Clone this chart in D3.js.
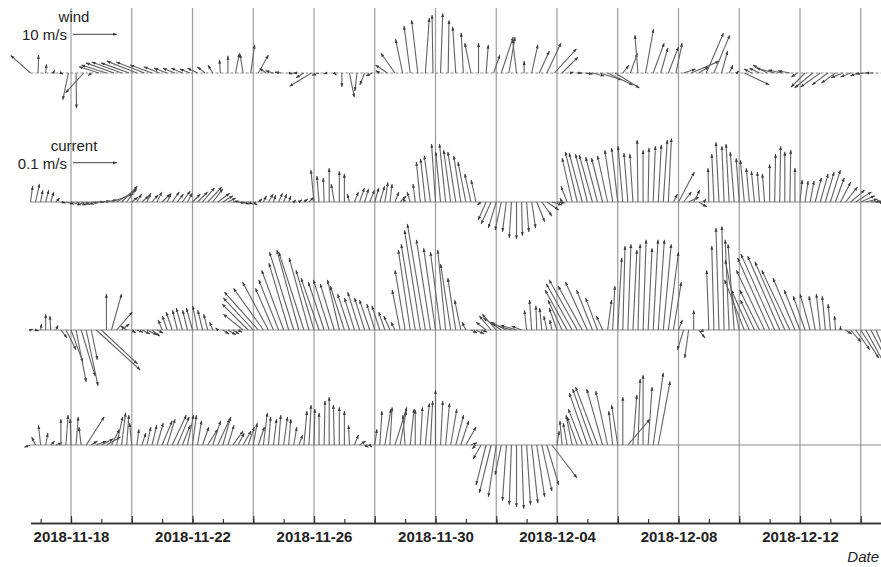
<!DOCTYPE html>
<html>
<head>
<meta charset="utf-8">
<script src="https://cdn.jsdelivr.net/npm/d3@7"></script>
<style>
  body { margin: 0; background: #fff; }
  svg { display: block; font-family: "Liberation Sans", Arial, sans-serif; }
</style>
</head>
<body>
<svg id="chart" width="881" height="567"></svg>
<script>
// ---- time axis ----
const startTime = new Date(Date.UTC(2018, 10, 16, 16));
const endTime = new Date(Date.UTC(2018, 11, 14, 16));
const gridDays = ['2018-11-18', '2018-11-20', '2018-11-22', '2018-11-24', '2018-11-26', '2018-11-28',
  '2018-11-30', '2018-12-02', '2018-12-04', '2018-12-06', '2018-12-08', '2018-12-10', '2018-12-12', '2018-12-14'];
const tickLabels = ['2018-11-18', '2018-11-22', '2018-11-26', '2018-11-30', '2018-12-04', '2018-12-08', '2018-12-12'];

// ---- wind (m/s), one vector every 6 h from startTime ----
const windStepHours = 6;
const windU = [-4.5,0.1,0.2,0.3,0.5,-1.3,0.1,-4.1,-0.7,-4.5,
  -5.7,-6.4,-6.8,-6.4,-6.8,-6.4,-5.0,-3.6,-3.0,-2.7,
  -2.5,-2.3,-2.3,-1.8,-1.1,-0.2,0.0,0.9,-0.7,0.9,
  2.3,-1.4,-1.8,-1.4,0.9,-0.7,-1.8,-5.0,-1.6,-0.7,
  0.5,0.0,1.1,-0.5,-1.1,-1.4,-0.9,-2.7,-3.2,-1.6,
  -1.4,-1.4,0.9,-0.2,0.5,0.2,-0.7,-0.5,-1.4,0.0,
  0.5,1.4,2.7,1.4,-0.9,0.0,1.4,2.3,3.2,5.0,
  3.6,0.9,1.1,1.8,2.7,5.0,5.7,5.5,1.4,1.6,
  -0.7,1.8,2.5,1.6,2.3,1.4,2.7,6.4,2.3,3.9,
  3.6,1.4,0.9,0.5,5.7,-1.8,-2.3,-3.2,-4.1,-3.2,
  -2.7,-1.4,-3.2,-4.1,-4.5,-3.6,-3.2,-2.7,-2.3,-1.8,
  -2.3,-1.8];
const windV = [4.0,4.1,2.0,0.7,-0.3,-6.1,-8.0,-4.5,-0.6,1.4,
  1.8,2.3,2.5,2.3,2.7,2.5,1.8,1.4,1.1,1.1,
  1.1,0.9,1.1,1.4,1.8,3.0,3.9,4.5,4.3,6.4,
  4.1,1.1,0.5,0.2,-0.2,0.0,-1.1,-3.0,-0.5,-0.2,
  -0.5,-3.2,-5.5,-4.1,-2.7,-0.7,0.5,1.8,4.5,7.7,
  10.7,12.0,12.5,13.2,13.6,12.0,10.5,9.1,6.8,6.8,
  6.4,4.1,8.2,8.2,7.7,2.7,6.4,5.0,6.8,5.5,
  3.6,0.2,0.0,-0.2,-0.7,-1.6,-2.7,-3.4,1.8,4.5,
  8.6,10.0,6.8,5.7,5.9,6.8,0.9,2.7,1.4,9.1,
  8.6,5.0,1.8,0.5,-2.7,0.9,1.1,1.8,1.1,0.7,
  0.5,-0.9,-3.2,-3.4,-3.2,-2.7,-2.3,-1.1,-0.9,-0.7,
  -0.2,0.0];

// ---- currents (cm/s), one vector every 4 h from startTime, three depths ----
const currentStepHours = 4;
const cur1U = [0.5,0.9,0.5,0.7,0.7,0.9,1.1,1.8,2.3,2.3,
  2.0,1.8,1.6,1.8,2.0,2.3,5.0,4.5,3.6,2.3,
  1.4,1.1,1.6,0.9,1.4,1.1,1.8,0.9,1.6,1.4,
  1.8,1.1,1.8,2.3,2.7,3.2,2.3,2.7,2.3,1.8,
  1.4,1.6,1.4,1.1,0.9,0.9,0.7,1.1,0.5,0.9,
  0.7,0.5,0.5,0.7,0.9,1.1,-0.7,-0.5,-0.2,0,
  -0.7,0,0,-0.5,0.9,1.1,0.9,1.1,0.9,1.1,
  0.7,0.5,0.9,1.4,-0.5,-0.7,-0.5,-0.9,-1.1,-1.4,
  -0.9,-1.1,-1.4,-1.6,-1.8,-1.6,-1.8,-1.4,-1.1,-0.9,
  -1.8,-2.3,-1.8,-1.4,-0.9,-0.5,0,0.2,0.5,0.9,
  1.8,2.3,2.7,2.3,1.8,-0.5,-1.4,-2.3,-2.7,-3.0,
  -2.7,-3.0,-2.7,-2.5,-2.3,-1.8,-1.4,-1.1,-0.9,-0.7,
  -0.2,0,0.2,0.5,0.7,0.9,0.7,0.9,3.6,1.8,
  2.3,1.4,1.8,0.5,-0.2,-0.5,-0.7,-0.5,-0.7,-0.9,
  -0.7,-0.9,-0.7,-0.7,-0.5,-0.5,0,0.2,0.2,0,
  0.2,0,0.5,0.7,0.9,1.4,1.8,2.0,2.3,2.0,
  2.3,2.7,3.2,3.6,3.2,2.7,2.3,1.8];
const cur1V = [3.6,4.1,2.7,2.7,2.3,0.9,-0.2,-0.5,-0.7,-0.7,
  -0.5,-0.5,-0.2,0,0.2,0.5,1.8,2.7,3.6,3.2,
  1.1,1.8,1.4,2.0,1.6,2.3,1.8,2.0,2.3,1.8,
  2.5,2.0,1.8,2.3,3.2,3.4,3.0,2.0,1.4,0.9,
  0.2,-0.2,-0.5,-0.5,-0.7,0.7,1.4,1.8,1.6,2.0,
  1.8,1.4,0.5,0.5,0.7,1.1,7.3,5.9,5.5,7.7,
  4.1,7.0,6.4,1.8,2.3,3.2,3.0,2.7,3.2,3.6,
  4.5,4.1,2.3,1.4,0.9,2.3,4.1,9.1,9.8,10.5,
  13.2,11.4,13.2,11.8,11.4,10.5,9.1,6.4,5.0,-0.7,
  -4.1,-5.0,-5.9,-6.4,-6.8,-8.2,-8.4,-7.7,-6.8,-5.9,
  -4.5,-3.2,-1.8,-0.7,-0.2,0.9,3.6,10.0,11.4,11.1,
  10.9,10.7,10.2,10.0,10.5,11.8,12.3,12.7,11.1,10.9,
  14.1,11.8,12.3,12.7,13.0,14.1,14.5,1.8,6.8,2.3,
  1.1,2.7,-1.1,0.7,7.7,10.9,13.6,12.7,13.2,11.4,
  10.0,9.5,7.7,7.0,6.8,6.4,8.6,10.9,12.7,11.4,
  11.8,7.7,5.0,4.8,4.8,5.5,6.4,6.8,7.3,5.5,
  4.5,3.4,2.7,2.3,1.4,0.7,0.2,-0.2];
const cur2U = [0.5,0.7,0.2,0,-0.2,0.5,1.4,2.3,2.7,2.3,
  3.2,2.7,1.4,10.0,8.2,0,2.3,3.6,1.8,-1.4,
  0.9,1.4,1.8,2.3,1.8,1.4,-0.9,-1.1,-1.4,-1.1,
  -1.4,-1.1,-1.4,-1.1,-1.1,-0.9,-0.7,-0.5,1.4,1.8,
  1.4,0.9,-4.5,-5.9,-6.8,-7.7,-6.8,-5.9,-4.1,-4.5,
  -5.0,-4.5,-5.5,-5.0,-5.7,-4.5,-4.1,-4.1,-3.6,-3.6,
  -3.2,-2.7,-3.2,-2.7,-2.3,-2.7,-2.3,-2.3,-1.8,-1.8,
  -1.4,-1.4,-0.9,-1.8,-2.3,-2.7,-3.2,-3.6,-4.1,-3.2,
  -2.7,-2.3,-1.8,-2.3,-1.8,-1.4,-0.9,1.4,1.8,1.4,
  -2.3,-2.7,-3.2,-4.1,-3.6,-4.5,-3.6,-2.3,-0.5,-0.5,
  -0.2,-0.5,-0.7,-0.5,-1.8,-3.2,-5.0,-5.9,-6.4,-5.5,
  -5.0,-3.6,-2.7,-1.4,0.9,0.5,0.9,0.5,0.7,0.9,
  0.5,0.7,0.9,1.1,1.4,1.8,2.3,1.8,0.9,-1.4,
  -0.9,0,1.4,-0.9,-0.5,-0.5,-0.7,-0.5,-0.9,-1.4,
  -3.2,-4.5,-4.1,-3.2,-4.5,-6.4,-7.3,-7.7,-7.3,-6.8,
  -6.4,-5.0,-3.6,-2.7,-2.3,-1.4,-0.9,-0.7,-0.5,-0.2,
  0,1.4,2.3,3.2,4.1,4.5,5.0,4.5];
const cur2V = [0.2,-0.2,1.4,3.6,3.2,1.1,-1.8,-4.5,-7.3,-11.8,
  -10.5,-12.7,-6.8,-9.1,-7.7,8.2,8.2,4.1,1.4,0.9,
  -0.7,-0.5,-0.9,-1.1,-1.4,-0.7,2.3,3.2,4.1,4.5,
  5.0,4.5,5.0,5.5,4.5,3.6,1.8,0.5,-0.9,-1.1,
  -0.9,-0.5,3.6,5.9,7.3,8.6,9.5,10.9,9.5,11.4,
  13.6,15.2,17.7,18.2,17.7,16.4,13.6,11.8,10.9,11.4,
  10.5,11.4,10.0,8.2,7.3,8.6,7.3,6.8,5.9,5.5,
  4.1,3.2,1.8,9.1,13.6,18.2,19.5,22.7,24.1,20.5,
  18.6,17.7,18.2,15.0,11.8,6.8,1.8,-0.7,-0.9,-0.5,
  1.8,3.2,3.6,2.7,1.8,1.4,1.1,0.9,4.5,6.8,
  5.5,5.0,3.2,2.3,5.0,6.8,9.1,10.5,11.4,10.0,
  10.9,9.1,7.3,3.2,6.8,10.0,16.4,19.1,19.5,18.2,
  19.5,20.5,18.6,20.5,20.5,19.5,17.7,10.9,2.3,-4.5,
  -6.4,4.5,-1.8,-0.5,13.6,19.1,23.2,23.6,20.5,19.5,
  15.9,11.4,9.1,6.8,9.1,13.6,16.4,17.3,16.8,15.5,
  13.6,11.8,9.1,7.7,8.2,7.7,8.2,7.7,5.9,3.2,
  0.9,-0.9,-2.7,-4.5,-6.4,-8.2,-9.5,-10.5];
const cur3U = [-1.4,-0.9,-0.5,0.5,0.9,1.4,0,0.5,-0.2,0.5,
  -0.5,4.1,1.4,2.3,2.7,3.2,1.8,1.4,0.9,0.5,
  -0.5,0.5,0.9,0.9,1.1,1.4,2.3,1.8,3.2,2.7,
  1.8,1.4,0.9,0.9,1.4,2.3,1.8,2.7,1.8,1.4,
  2.3,1.4,1.8,1.4,0.9,1.4,0.9,0.5,0.7,0.5,
  0.9,0.5,0.7,0.9,0.7,0.5,0.2,0,0.2,0,
  -0.2,0,0,-0.2,0.9,1.4,0.9,0.5,0.5,0.5,
  1.4,0.5,2.7,1.4,-0.5,0.9,0,0.5,0.9,0.5,
  0,0.5,0.9,1.4,1.8,1.8,2.3,1.4,-0.9,-1.8,
  -2.3,-2.7,-1.8,-1.4,-0.9,-0.5,0,0.5,0.9,1.4,
  1.8,2.3,2.7,5.7,0.5,-0.5,-0.9,-1.4,-2.3,-3.2,
  -4.1,-4.5,-5.0,-3.6,-2.7,-0.9,-1.4,0,5.0,0.9,
  0.5,0,0.9,2.3,2.7];
const cur3V = [-0.5,1.8,4.5,2.7,0.9,0.5,5.9,6.8,5.9,6.4,
  4.1,6.4,0.9,0.9,1.4,1.8,3.6,6.4,7.3,6.8,
  5.0,3.6,2.7,4.1,4.5,5.0,5.5,5.9,6.8,6.4,
  4.5,6.8,6.8,5.5,4.1,3.6,5.5,5.9,6.4,4.5,
  3.2,2.7,3.2,4.1,5.0,4.1,7.3,6.4,5.9,6.8,
  6.4,5.9,4.1,2.3,7.7,9.1,8.2,7.3,10.0,10.9,
  9.1,8.6,7.7,4.5,2.3,0.9,-0.5,-0.5,3.6,7.7,
  8.2,8.6,8.6,7.7,6.8,8.2,8.0,8.6,9.5,10.0,
  12.5,10.0,9.5,8.2,6.8,5.5,4.1,0.5,-0.9,-3.2,
  -9.1,-10.9,-11.8,-6.8,-12.7,-13.6,-14.1,-14.5,-13.6,-13.2,
  -11.8,-10.5,-9.1,-7.5,3.2,5.5,5.0,6.8,6.4,8.2,
  11.8,12.7,13.2,12.7,12.3,7.7,9.1,10.9,5.9,11.4,
  15.0,15.9,13.2,16.4,14.5];

// ---- layout ----
const width = 881, height = 567;
const axisY = 523, gridTop = 8;
const windBase = 73, cur1Base = 202, cur2Base = 330, cur3Base = 445;

const svg = d3.select('#chart');

const x = d3.scaleUtc().domain([startTime, endTime]).range([30.5, 881]);
// 10 m/s of wind and 10 cm/s of current both draw 44 px
const windScale = d3.scaleLinear().domain([0, 10]).range([0, 44]);
const currentScale = d3.scaleLinear().domain([0, 10]).range([0, 44]);
const parseDay = d3.utcParse('%Y-%m-%d');
const fmtDay = d3.utcFormat('%Y-%m-%d');

const defs = svg.append('defs');
defs.append('marker')
  .attr('id', 'head')
  .attr('markerUnits', 'userSpaceOnUse')
  .attr('viewBox', '0 -3 6 6')
  .attr('markerWidth', 6).attr('markerHeight', 6)
  .attr('refX', 3.8).attr('refY', 0)
  .attr('orient', 'auto')
  .append('path')
    .attr('d', 'M0,-1.5L3.8,0L0,1.5Z')
    .attr('fill', '#3a3a3a');

// vertical grid lines every 2 days
svg.append('g').selectAll('line')
  .data(gridDays.map(parseDay))
  .join('line')
    .attr('x1', d => x(d)).attr('x2', d => x(d))
    .attr('y1', gridTop).attr('y2', axisY)
    .attr('stroke', '#9c9c9c').attr('stroke-width', 1.2);

// zero lines of each panel
svg.append('g').selectAll('line')
  .data([windBase, cur1Base, cur2Base, cur3Base])
  .join('line')
    .attr('x1', x(startTime)).attr('x2', width)
    .attr('y1', d => d).attr('y2', d => d)
    .attr('stroke', '#8a8a8a').attr('stroke-width', 1.1)
    .attr('stroke-dasharray', (d, i) => i === 0 ? '3,2' : null);

function drawSticks(u, v, stepHours, y0, scale) {
  const pts = u.map((d, i) => ({ t: d3.utcHour.offset(startTime, i * stepHours), u: d, v: v[i] }));
  svg.append('g').selectAll('line')
    .data(pts)
    .join('line')
      .attr('x1', d => x(d.t)).attr('y1', y0)
      .attr('x2', d => x(d.t) + scale(d.u))
      .attr('y2', d => y0 - scale(d.v))
      .attr('stroke', '#626262').attr('stroke-width', 1.1)
      .attr('marker-end', 'url(#head)');
}

drawSticks(windU, windV, windStepHours, windBase, windScale);
drawSticks(cur1U, cur1V, currentStepHours, cur1Base, currentScale);
drawSticks(cur2U, cur2V, currentStepHours, cur2Base, currentScale);
drawSticks(cur3U, cur3V, currentStepHours, cur3Base, currentScale);

// scale arrows
function scaleKey(title, label, len, titleY, labelY, arrowY) {
  const g = svg.append('g').attr('font-size', 15).attr('fill', '#222');
  g.append('text').attr('x', 74).attr('y', titleY).attr('text-anchor', 'middle').text(title);
  g.append('text').attr('x', 67).attr('y', labelY).attr('text-anchor', 'end').text(label);
  g.append('line')
    .attr('x1', 73).attr('x2', 73 + len)
    .attr('y1', arrowY).attr('y2', arrowY)
    .attr('stroke', '#444').attr('stroke-width', 1)
    .attr('marker-end', 'url(#head)');
}
scaleKey('wind', '10 m/s', windScale(10), 22, 39.5, 34.3);
scaleKey('current', '0.1 m/s', currentScale(10), 151, 169, 162.7);

// time axis: daily minor ticks, 2-day major ticks, labels every 4 days
const minorAxis = d3.axisBottom(x)
  .ticks(d3.utcDay.every(1))
  .tickSize(-4).tickSizeOuter(0)
  .tickFormat('');
const majorAxis = d3.axisBottom(x)
  .tickValues(gridDays.map(parseDay))
  .tickSize(-7).tickSizeOuter(0).tickPadding(8)
  .tickFormat(d => tickLabels.includes(fmtDay(d)) ? fmtDay(d) : '');

const gMinor = svg.append('g').attr('transform', `translate(0,${axisY})`).call(minorAxis);
const gMajor = svg.append('g').attr('transform', `translate(0,${axisY})`).call(majorAxis);
[gMinor, gMajor].forEach(g => {
  g.select('.domain').attr('stroke', '#333').attr('stroke-width', 1.6);
  g.selectAll('.tick line').attr('stroke', '#333').attr('stroke-width', 1.2);
});
gMajor.selectAll('.tick text')
  .attr('font-family', '"Liberation Sans", Arial, sans-serif')
  .attr('font-size', 15).attr('font-weight', 'bold').attr('fill', '#222');

svg.append('text')
  .attr('x', 879).attr('y', 562)
  .attr('text-anchor', 'end')
  .attr('font-size', 15).attr('font-style', 'italic').attr('fill', '#222')
  .text('Date');
</script>
</body>
</html>
